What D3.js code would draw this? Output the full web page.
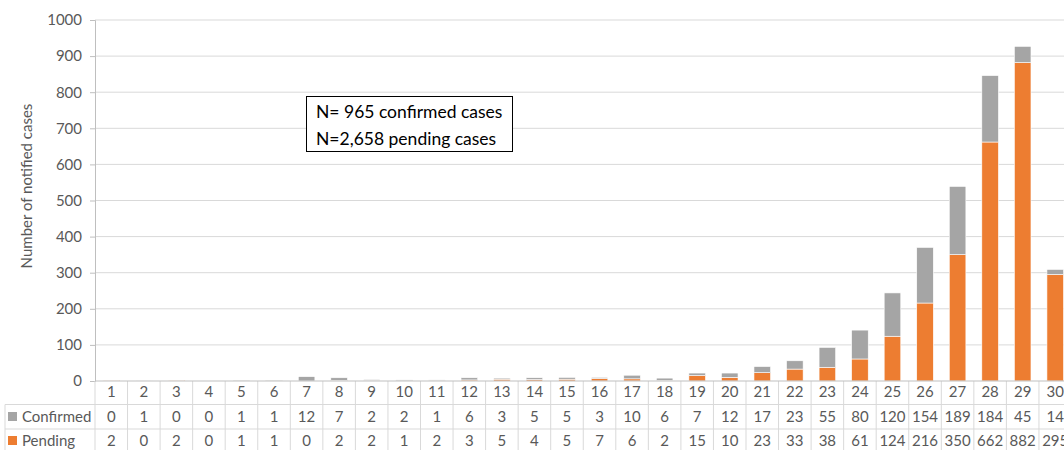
<!DOCTYPE html>
<html>
<head>
<meta charset="utf-8">
<script src="https://cdn.jsdelivr.net/npm/d3@7"></script>
<style>
  body { margin: 0; background: #fff; }
  svg { font-family: Lato, "Open Sans", sans-serif; }
</style>
</head>
<body>
<svg width="1064" height="450"></svg>
<script>
// week numbers, confirmed and pending counts per week
const weeks = d3.range(1, 31).map(String);
const confirmed = [0, 1, 0, 0, 1, 1, 12, 7, 2, 2, 1, 6, 3, 5, 5, 3, 10, 6, 7, 12, 17, 23, 55, 80, 120, 154, 189, 184, 45, 14];
const pending = [2, 0, 2, 0, 1, 1, 0, 2, 2, 1, 2, 3, 5, 4, 5, 7, 6, 2, 15, 10, 23, 33, 38, 61, 124, 216, 350, 662, 882, 295];
const yTicks = [0, 100, 200, 300, 400, 500, 600, 700, 800, 900, 1000];
const seriesNames = ["Confirmed", "Pending"];
const seriesColors = ["#a5a5a5", "#ed7d31"];
const noteLines = ["N= 965 confirmed cases", "N=2,658 pending cases"];

var svg = d3.select("svg");
let plotLeft = 95, plotTop = 20, plotBottom = 381;
let colW = 32.55;

let x = d3.scaleBand()
  .domain(weeks)
  .range([plotLeft, plotLeft + colW * weeks.length])
  .paddingInner(0.49)
  .paddingOuter(0.245);

let y = d3.scaleLinear().domain([0, 1000]).range([plotBottom, plotTop]);

// gridlines
svg.append("g").selectAll("line").data(yTicks.slice(1)).enter().append("line")
  .attr("x1", plotLeft).attr("x2", 1064)
  .attr("y1", d => y(d)).attr("y2", d => y(d))
  .attr("stroke", "#d9d9d9").attr("stroke-width", 1);

// y axis
let yAxis = svg.append("g")
  .attr("transform", "translate(" + plotLeft + ",0)")
  .call(d3.axisLeft(y).tickValues(yTicks).tickFormat(d3.format("d")).tickSize(5).tickPadding(8));
yAxis.select(".domain").attr("stroke", "#bfbfbf");
yAxis.selectAll(".tick line").attr("stroke", "#bfbfbf");
yAxis.selectAll(".tick text").attr("fill", "#595959").style("font-size", "15px").style("font-family", "Lato, sans-serif");

svg.append("text")
  .attr("transform", "translate(32,186) rotate(-90)")
  .attr("text-anchor", "middle")
  .attr("fill", "#595959")
  .style("font-size", "15px")
  .text("Number of notified cases");

// stacked bars: pending at bottom, confirmed on top
let rows = weeks.map((w, i) => ({ week: w, Pending: pending[i], Confirmed: confirmed[i] }));
let stack = d3.stack().keys(["Pending", "Confirmed"])(rows);
let colorOf = { Pending: "#ed7d31", Confirmed: "#a5a5a5" };

svg.append("g").selectAll("g").data(stack).enter().append("g")
  .attr("fill", d => colorOf[d.key])
  .selectAll("rect").data(d => d).enter().append("rect")
  .attr("x", d => x(d.data.week))
  .attr("width", x.bandwidth())
  .attr("y", d => y(d[1]))
  .attr("height", d => Math.max(0, y(d[0]) - y(d[1])))
  .attr("stroke", "#ffffff")
  .attr("stroke-width", 0.6);

// data table
let rowTop = [plotBottom, 404.5, 429];
let rowBottom = 455;
let table = svg.append("g");
let colEdges = d3.range(weeks.length + 1).map(i => plotLeft + i * colW);

table.selectAll("line.v").data(colEdges).enter().append("line")
  .attr("x1", d => d).attr("x2", d => d)
  .attr("y1", plotBottom).attr("y2", rowBottom)
  .attr("stroke", "#d9d9d9");
table.append("line")
  .attr("x1", 5).attr("x2", 5).attr("y1", rowTop[1]).attr("y2", rowBottom)
  .attr("stroke", "#d9d9d9");
table.selectAll("line.h").data(rowTop.slice(1)).enter().append("line")
  .attr("x1", 5).attr("x2", 1064)
  .attr("y1", d => d).attr("y2", d => d)
  .attr("stroke", "#d9d9d9");

// x axis line
svg.append("line")
  .attr("x1", plotLeft).attr("x2", 1064).attr("y1", plotBottom).attr("y2", plotBottom)
  .attr("stroke", "#bfbfbf");

let cellText = function (vals, yy) {
  table.append("g").selectAll("text").data(vals).enter().append("text")
    .attr("x", (d, i) => x(weeks[i]) + x.bandwidth() / 2)
    .attr("y", yy)
    .attr("text-anchor", "middle")
    .attr("fill", "#595959")
    .style("font-size", "15px")
    .text(d => d);
};
cellText(weeks, 397);
cellText(confirmed, 422);
cellText(pending, 446);

// row headers with legend keys
seriesNames.forEach(function (name, i) {
  let cy = [417, 441][i];
  table.append("rect")
    .attr("x", 8).attr("y", cy - 5).attr("width", 9).attr("height", 9)
    .attr("fill", seriesColors[i]);
  table.append("text")
    .attr("x", 22).attr("y", cy + 5)
    .attr("fill", "#595959")
    .style("font-size", "15px")
    .text(name);
});

// annotation box
svg.append("rect")
  .attr("x", 306.5).attr("y", 96.5).attr("width", 206).attr("height", 55)
  .attr("fill", "#fff").attr("stroke", "#000").attr("stroke-width", 1);
svg.append("g").selectAll("text").data(noteLines).enter().append("text")
  .attr("x", 316)
  .attr("y", (d, i) => 118 + i * 27)
  .attr("fill", "#000")
  .style("font-size", "17.5px")
  .text(d => d);
</script>
</body>
</html>
